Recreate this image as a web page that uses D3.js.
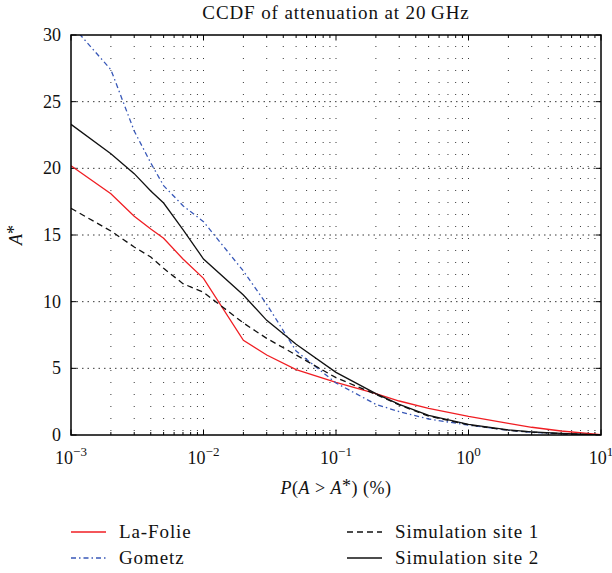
<!DOCTYPE html>
<html>
<head>
<meta charset="utf-8">
<script src="https://cdn.jsdelivr.net/npm/d3@7"></script>
<style>
  body { margin: 0; background: #fff; }
  text { font-family: "Liberation Serif", "Times New Roman", serif; fill: #111; }
</style>
</head>
<body>
<script>
// P(A > A*) in %, shared by all curves
const pct = [0.001, 0.002, 0.003, 0.004, 0.005, 0.007, 0.01, 0.02, 0.03, 0.05, 0.1, 0.2, 0.3, 0.5, 1, 2, 3, 5, 10];

const laFolie = [20.2, 18.1, 16.4, 15.45, 14.75, 13.2, 11.75, 7.1, 6.0, 4.9, 3.95, 3.1, 2.55, 2.0, 1.4, 0.87, 0.58, 0.3, 0.03];
const gometz  = [30.8, 27.4, 22.8, 20.4, 18.7, 17.2, 16.0, 12.3, 9.8, 6.3, 3.9, 2.3, 1.75, 1.2, 0.74, 0.35, 0.2, 0.08, 0.0];
const site1   = [17.0, 15.3, 14.1, 13.35, 12.5, 11.35, 10.7, 8.4, 7.25, 6.0, 4.3, 3.05, 2.25, 1.42, 0.76, 0.35, 0.22, 0.1, 0.0];
const site2   = [23.3, 21.1, 19.6, 18.3, 17.4, 15.4, 13.2, 10.5, 8.6, 6.8, 4.7, 3.1, 2.3, 1.47, 0.8, 0.38, 0.24, 0.12, 0.0];

const xMajor = [1e-3, 1e-2, 1e-1, 1, 10];
const xExp = ["−3", "−2", "−1", "0", "1"];
const yTicks = [0, 5, 10, 15, 20, 25, 30];

const seriesNames = ["La-Folie", "Gometz", "Simulation site 1", "Simulation site 2"];
const seriesData = [laFolie, gometz, site1, site2];
const colors = ["#f01e23", "#3858b8", "#111", "#111"];
const dashes = [null, "5,3,1.5,3", "6,4", null];

let width = 612
let height = 573
const pLeft = 71, pRight = 601, pTop = 35, pBottom = 435;

const svg = d3.select("body").append("svg")
  .attr("width", width)
  .attr("height", height)

const x = d3.scaleLog().domain([1e-3, 10]).range([pLeft, pRight]);
const y = d3.scaleLinear().domain([0, 30]).range([pBottom, pTop]);

// minor ticks on the log axis: 1..9 per decade
let xAll = [];
for (let e = -3; e < 1; e++) {
  for (let m = 1; m <= 9; m++) xAll.push(m * Math.pow(10, e));
}
xAll.push(10);
const xMinor = xAll.filter(v => !xMajor.includes(v));

// grid
svg.append("g").selectAll("line")
  .data(xAll.filter(v => v > 1e-3 && v < 10)).enter()
  .append("line")
  .attr("x1", d => x(d)).attr("x2", d => x(d))
  .attr("y1", pBottom).attr("y2", pTop)
  .attr("stroke", "#222")
  .attr("stroke-width", 0.9)
  .attr("stroke-dasharray", "1,11")
  .attr("stroke-dashoffset", 8);

svg.append("g").selectAll("line")
  .data(yTicks.filter(v => v > 0 && v < 30)).enter()
  .append("line")
  .attr("x1", pLeft).attr("x2", pRight)
  .attr("y1", d => y(d)).attr("y2", d => y(d))
  .attr("stroke", "#222")
  .attr("stroke-width", 0.9)
  .attr("stroke-dasharray", "1.5,4");

// ticks (inward)
const tickG = svg.append("g").attr("stroke", "#000").attr("stroke-width", 1);
function vTicks(data, len) {
  tickG.selectAll(null).data(data).enter().append("line")
    .attr("x1", d => x(d)).attr("x2", d => x(d))
    .attr("y1", pBottom).attr("y2", pBottom - len);
  tickG.selectAll(null).data(data).enter().append("line")
    .attr("x1", d => x(d)).attr("x2", d => x(d))
    .attr("y1", pTop).attr("y2", pTop + len);
}
vTicks(xMinor, 3);
vTicks(xMajor, 5.5);
tickG.selectAll(null).data(yTicks).enter().append("line")
  .attr("x1", pLeft).attr("x2", pLeft + 5.5)
  .attr("y1", d => y(d)).attr("y2", d => y(d));
tickG.selectAll(null).data(yTicks).enter().append("line")
  .attr("x1", pRight).attr("x2", pRight - 5.5)
  .attr("y1", d => y(d)).attr("y2", d => y(d));

// curves
svg.append("clipPath").attr("id", "plotclip")
  .append("rect").attr("x", pLeft).attr("y", pTop)
  .attr("width", pRight - pLeft).attr("height", pBottom - pTop);

const line = d3.line()
  .x(d => x(d[0]))
  .y(d => y(d[1]));

svg.append("g").attr("clip-path", "url(#plotclip)")
  .selectAll("path")
  .data(seriesData).enter()
  .append("path")
  .attr("d", d => line(pct.map((p, i) => [p, d[i]])))
  .attr("fill", "none")
  .attr("stroke", (d, i) => colors[i])
  .attr("stroke-width", 1.3)
  .attr("stroke-dasharray", (d, i) => dashes[i]);

// box
svg.append("rect")
  .attr("x", pLeft).attr("y", pTop)
  .attr("width", pRight - pLeft).attr("height", pBottom - pTop)
  .attr("fill", "none").attr("stroke", "#000").attr("stroke-width", 1.5);

// tick labels
const xl = svg.append("g").selectAll("text")
  .data(xMajor).enter()
  .append("text")
  .attr("x", d => x(d))
  .attr("y", 464)
  .attr("text-anchor", "middle")
  .style("font-size", "18px");
xl.append("tspan").text("10");
xl.append("tspan").attr("dy", -8).style("font-size", "13px").text((d, i) => xExp[i]);

svg.append("g").selectAll("text")
  .data(yTicks).enter()
  .append("text")
  .attr("x", 61)
  .attr("y", d => y(d) + 6)
  .attr("text-anchor", "end")
  .style("font-size", "18px")
  .text(d => d);

// title and axis labels
svg.append("text")
  .attr("x", (pLeft + pRight) / 2).attr("y", 19)
  .attr("text-anchor", "middle")
  .style("font-size", "19px")
  .style("letter-spacing", "0.9px")
  .text("CCDF of attenuation at 20\u2009GHz");

const xt = svg.append("text")
  .attr("x", (pLeft + pRight) / 2).attr("y", 494)
  .attr("text-anchor", "middle")
  .style("font-size", "18px")
  .style("letter-spacing", "0.5px");
xt.append("tspan").style("font-style", "italic").text("P");
xt.append("tspan").text("(");
xt.append("tspan").style("font-style", "italic").text("A");
xt.append("tspan").text(" > ");
xt.append("tspan").style("font-style", "italic").text("A");
xt.append("tspan").attr("dy", -2).text("*");
xt.append("tspan").attr("dy", 2).text(") (%)");

const yt = svg.append("text")
  .attr("transform", "translate(22," + ((pTop + pBottom) / 2) + ") rotate(-90)")
  .attr("text-anchor", "middle")
  .style("font-size", "18px");
yt.append("tspan").style("font-style", "italic").text("A");
yt.append("tspan").attr("dy", -2).text("*");

// legend
const legX = [71, 347];
const legY = [532, 558];
const leg = svg.append("g").selectAll("g")
  .data(seriesNames).enter()
  .append("g")
  .attr("transform", (d, i) => "translate(" + legX[i < 2 ? 0 : 1] + "," + legY[i % 2] + ")");
leg.append("line")
  .attr("x1", 0).attr("x2", 35)
  .attr("stroke", (d, i) => colors[i])
  .attr("stroke-width", 1.3)
  .attr("stroke-dasharray", (d, i) => dashes[i]);
leg.append("text")
  .attr("x", 48).attr("y", 6)
  .style("font-size", "19px")
  .style("letter-spacing", "0.9px")
  .text(d => d);
</script>
</body>
</html>
